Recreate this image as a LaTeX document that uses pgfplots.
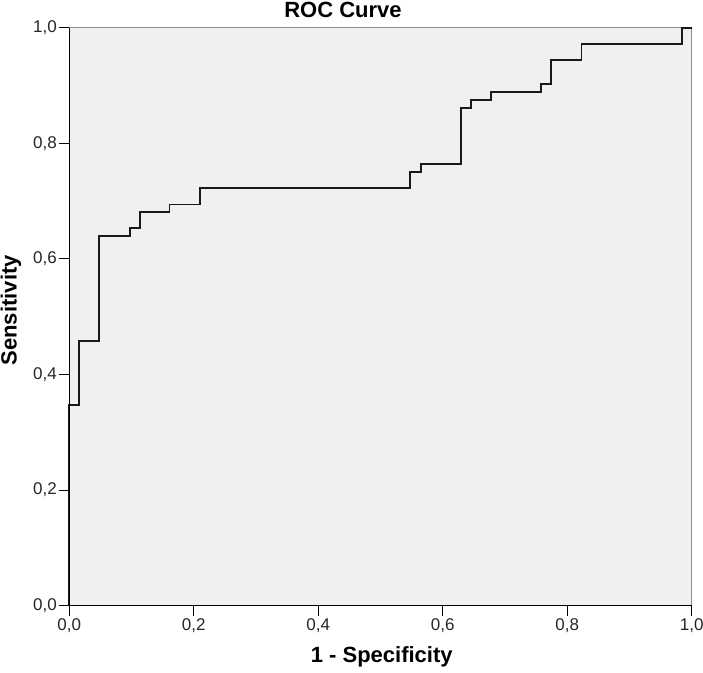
\documentclass[border=0pt]{standalone}
\usepackage{fontspec}
\setmainfont{Liberation Sans}
\usepackage{pgfplots}
\pgfplotsset{compat=1.18}
\definecolor{bggray}{HTML}{F0F0F0}
\definecolor{boxgray}{HTML}{8C8C8C}
\begin{document}
\begin{tikzpicture}
\useasboundingbox (-69.3pt,-66.3pt) rectangle (633.7pt,605.7pt);
\begin{axis}[
  at={(0,0)}, anchor=south west,
  scale only axis, width=622.4pt, height=578pt,
  xmin=0, xmax=1, ymin=0, ymax=1,
  axis background/.style={fill=bggray},
  axis line style={boxgray, line width=1.3pt},
  xtick={0,0.2,0.4,0.6,0.8,1},
  ytick={0,0.2,0.4,0.6,0.8,1},
  xticklabels={{0,0},{0,2},{0,4},{0,6},{0,8},{1,0}},
  yticklabels={{0,0},{0,2},{0,4},{0,6},{0,8},{1,0}},
  tick align=outside, xtick pos=bottom, ytick pos=left,
  major tick length=10pt,
  tick style={black, line width=1pt},
  tick label style={font=\fontsize{17}{20}\selectfont, text=black!85},
  xticklabel style={yshift=1pt},
  yticklabel style={xshift=1pt},
  xlabel={1 - Specificity},
  xlabel style={at={(axis description cs:0.502,-0.0991)}, anchor=base, font=\bfseries\fontsize{22}{26}\selectfont},
  ylabel={Sensitivity},
  ylabel style={at={(axis description cs:-0.0845,0.511)}, anchor=base, font=\bfseries\fontsize{22}{26}\selectfont},
  clip=false,
]
\addplot[line width=1.8pt, color=black!90, line join=miter] coordinates {
(0,0) (0,0.347) (0.016,0.347) (0.016,0.458) (0.048,0.458) (0.048,0.639)
(0.097,0.639) (0.097,0.653) (0.113,0.653) (0.113,0.681) (0.161,0.681)
(0.161,0.694) (0.210,0.694) (0.210,0.722) (0.548,0.722) (0.548,0.750)
(0.565,0.750) (0.565,0.764) (0.629,0.764) (0.629,0.861) (0.645,0.861)
(0.645,0.875) (0.677,0.875) (0.677,0.889) (0.758,0.889) (0.758,0.903)
(0.774,0.903) (0.774,0.944) (0.823,0.944) (0.823,0.972) (0.984,0.972)
(0.984,1) (1,1)
};
\draw[black, line width=1.4pt] (rel axis cs:0,1) -- (rel axis cs:0,0) -- (rel axis cs:1,0);
\node[anchor=base, inner sep=0pt, font=\bfseries\fontsize{22}{26}\selectfont] at (rel axis cs:0.4397,1.0185) {ROC Curve};
\end{axis}
\end{tikzpicture}
\end{document}
